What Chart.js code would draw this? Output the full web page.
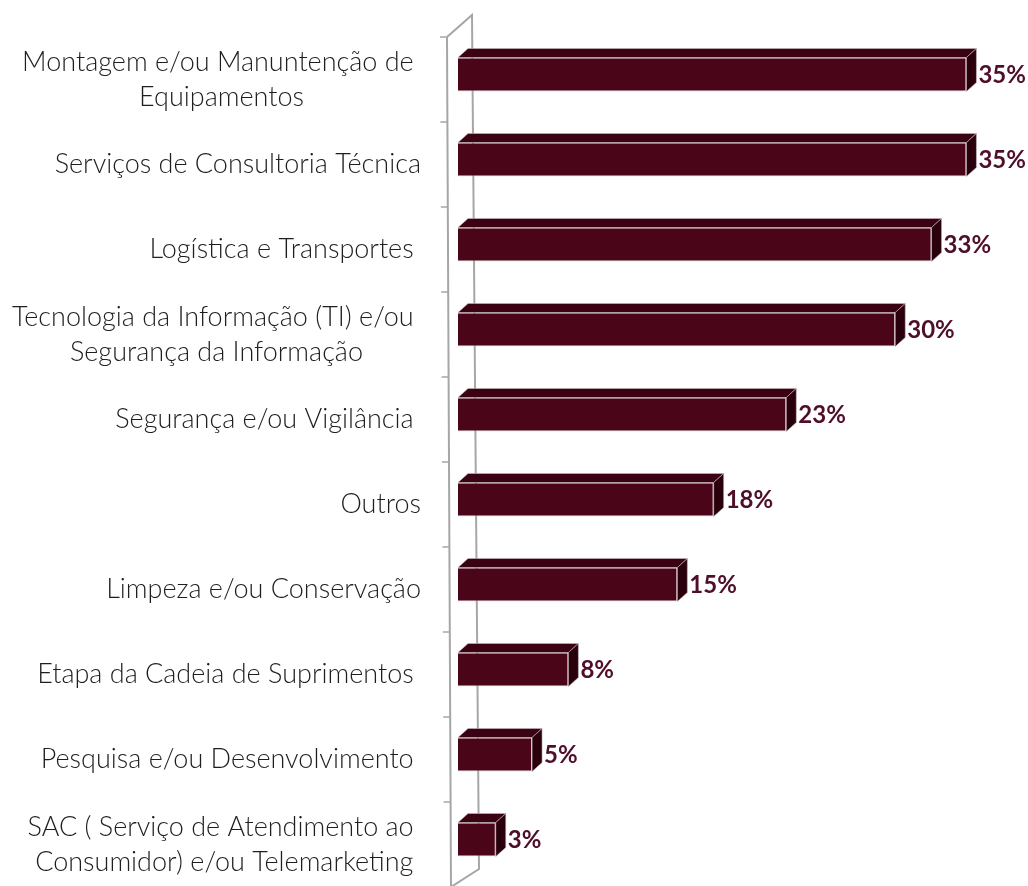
<!DOCTYPE html>
<html>
<head>
<meta charset="utf-8">
<script src="https://cdn.jsdelivr.net/npm/chart.js@4"></script>
<style>
  html, body { margin: 0; padding: 0; background: #fff; overflow: hidden; }
  #wrap { width: 1028px; height: 886px; }
</style>
</head>
<body>
<div id="wrap"><canvas id="chart" width="1028" height="886"></canvas></div>
<script>
// categorias (linhas do rótulo)
const CATEGORIES = [
  ["Montagem e/ou Manuntenção de ", "Equipamentos"],
  ["Serviços de Consultoria Técnica"],
  ["Logística e Transportes "],
  ["Tecnologia da Informação (TI) e/ou ", "Segurança da Informação"],
  ["Segurança e/ou Vigilância "],
  ["Outros"],
  ["Limpeza e/ou Conservação"],
  ["Etapa da Cadeia de Suprimentos "],
  ["Pesquisa e/ou Desenvolvimento "],
  ["SAC ( Serviço de Atendimento ao ", "Consumidor) e/ou Telemarketing"],
];
// percentuais (valores estimados da figura)
const VALUES = [35.0, 35.0, 32.6, 30.1, 22.6, 17.6, 15.1, 7.6, 5.1, 2.6];

const BAR_FRONT = "#4a0519";
const BAR_TOP = "#3a0213";
const BAR_SIDE = "#2a000d";
const EDGE = "rgba(200,190,192,0.55)";
const WALL = "#a6a6a6";
const LABEL_COLOR = "#1e1e1e";
const VALUE_COLOR = "#4f0e2a";

const DX = 10, DY = 9; // profundidade das barras
const LABEL_SHIFT = 5;  // deslocamento de perspectiva dos rótulos

const bar3d = {
  id: "bar3d",
  beforeDatasetsDraw(chart) {
    const ctx = chart.ctx;
    const area = chart.chartArea;
    const y = chart.scales.y;
    const band = y.getPixelForValue(1) - y.getPixelForValue(0);
    const top = y.getPixelForValue(0) - band / 2 + LABEL_SHIFT;
    const bottom = y.getPixelForValue(CATEGORIES.length - 1) + band / 2 + LABEL_SHIFT;

    // parede do eixo (3D)
    const fTop = area.left - 11, fBot = area.left - 7;
    const bTop = area.left + 14, bBot = area.left + 21;
    ctx.save();
    ctx.strokeStyle = WALL;
    ctx.lineWidth = 2;
    ctx.beginPath();
    ctx.moveTo(fTop, top);
    ctx.lineTo(fBot, bottom);
    ctx.lineTo(bBot, bottom - 18);
    ctx.lineTo(bTop, top - 22);
    ctx.lineTo(fTop, top);
    ctx.stroke();

    // marcas
    ctx.lineWidth = 1.5;
    for (let i = 0; i < CATEGORIES.length; i++) {
      const ty = top + band * i;
      const fx = fTop + (fBot - fTop) * (ty - top) / (bottom - top);
      ctx.beginPath();
      ctx.moveTo(fx - 7, ty);
      ctx.lineTo(fx, ty);
      ctx.stroke();
    }

    // rótulos das categorias
    ctx.fillStyle = LABEL_COLOR;
    ctx.font = "300 27px Lato";
    ctx.textBaseline = "middle";
    ctx.textAlign = "center";
    const right = area.left - 37;
    const lh = 35;
    CATEGORIES.forEach((lines, i) => {
      const cy = y.getPixelForValue(i) + LABEL_SHIFT;
      const w = Math.max(...lines.map((l) => ctx.measureText(l).width));
      const cx = right - w / 2;
      lines.forEach((l, k) => {
        ctx.fillText(l, cx, cy + (k - (lines.length - 1) / 2) * lh);
      });
    });
    ctx.restore();
  },
  afterDatasetsDraw(chart) {
    const ctx = chart.ctx;
    const meta = chart.getDatasetMeta(0);
    ctx.save();
    meta.data.forEach((bar, i) => {
      const p = bar.getProps(["x", "y", "base", "height"], true);
      const x0 = p.base, x1 = p.x;
      const t = p.y - p.height / 2, b = p.y + p.height / 2;

      // face superior
      ctx.fillStyle = BAR_TOP;
      ctx.strokeStyle = EDGE;
      ctx.lineWidth = 1;
      ctx.beginPath();
      ctx.moveTo(x0, t);
      ctx.lineTo(x0 + DX, t - DY);
      ctx.lineTo(x1 + DX, t - DY);
      ctx.lineTo(x1, t);
      ctx.closePath();
      ctx.fill();
      ctx.stroke();

      // face lateral
      ctx.fillStyle = BAR_SIDE;
      ctx.beginPath();
      ctx.moveTo(x1, t);
      ctx.lineTo(x1 + DX, t - DY);
      ctx.lineTo(x1 + DX, b - DY);
      ctx.lineTo(x1, b);
      ctx.closePath();
      ctx.fill();
      ctx.stroke();

      // valor
      ctx.fillStyle = VALUE_COLOR;
      ctx.font = "bold 24px Lato";
      ctx.textAlign = "left";
      ctx.textBaseline = "middle";
      ctx.fillText(Math.round(VALUES[i]) + "%", x1 + DX + 2, p.y + 1);
    });
    ctx.restore();
  },
};

new Chart(document.getElementById("chart"), {
  type: "bar",
  data: {
    labels: CATEGORIES,
    datasets: [{
      data: VALUES,
      backgroundColor: BAR_FRONT,
      borderColor: EDGE,
      borderWidth: 1,
      barPercentage: 0.4,
      categoryPercentage: 1,
    }],
  },
  options: {
    indexAxis: "y",
    responsive: false,
    animation: false,
    layout: { padding: { left: 458, right: 18, top: 32, bottom: 4 } },
    scales: {
      x: { display: false, min: 0, max: 38 },
      y: { display: false },
    },
    plugins: {
      legend: { display: false },
      tooltip: { enabled: false },
    },
  },
  plugins: [bar3d],
});
</script>
</body>
</html>
